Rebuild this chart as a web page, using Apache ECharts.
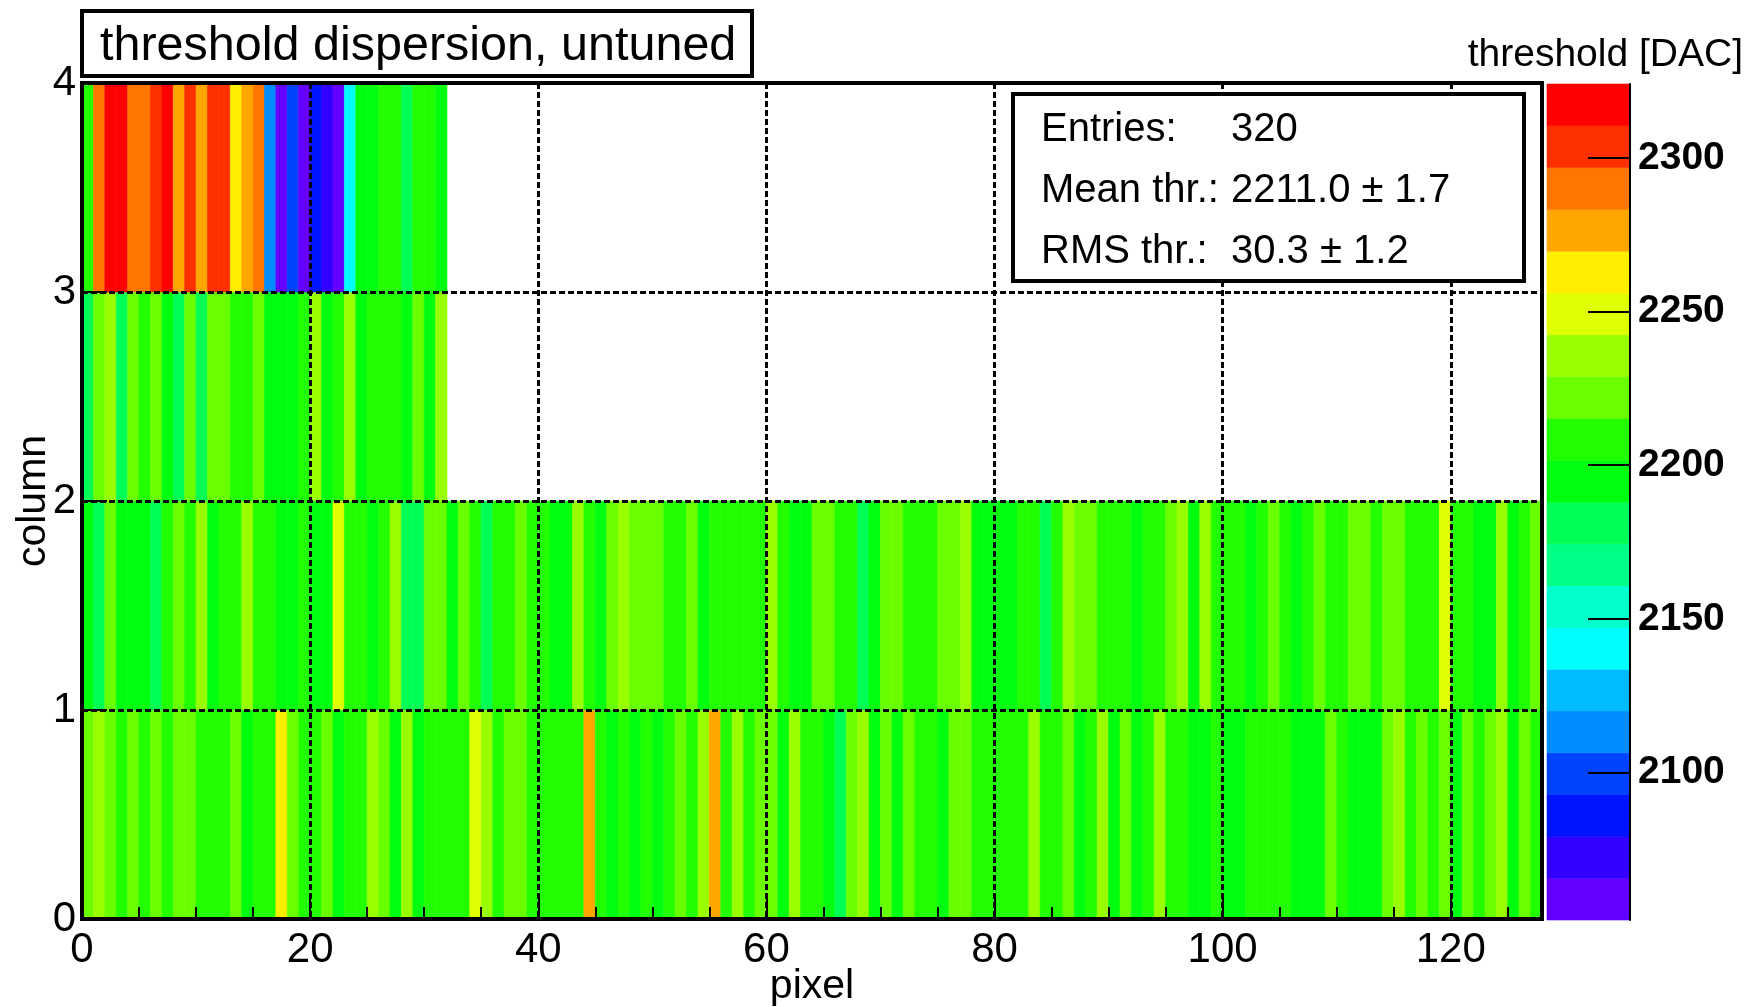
<!DOCTYPE html>
<html>
<head>
<meta charset="utf-8">
<script src="https://cdn.jsdelivr.net/npm/echarts@6/dist/echarts.min.js"></script>
<style>
  html, body { margin: 0; padding: 0; background: #fff; }
  #chart { width: 1755px; height: 1007px; }
</style>
</head>
<body>
<div id="chart"></div>
<script>
// Threshold map of a 4-column x 128-pixel readout, values in DAC units.
const titleText = 'threshold dispersion, untuned';
const zTitle = 'threshold [DAC]';
const xName = 'pixel';
const yName = 'column';

const pixelCount = 128;
const columnCount = 4;
const xTickStep = 20;
const zTicks = [2100, 2150, 2200, 2250, 2300];
const zMin = 2052;
const zMax = 2324;
const levelCount = 20;

const statLabels = ['Entries:', 'Mean thr.:', 'RMS thr.:'];
const statValues = ['320', '2211.0 \u00b1 1.7', '30.3 \u00b1 1.2'];

// column 0, pixels 0..127
const column0 = [
  2222, 2235, 2222, 2208, 2222, 2208, 2222, 2208, 2222, 2222,
  2208, 2208, 2208, 2222, 2195, 2208, 2208, 2263, 2222, 2208,
  2208, 2222, 2195, 2208, 2208, 2235, 2222, 2195, 2235, 2195,
  2208, 2208, 2208, 2208, 2249, 2235, 2208, 2222, 2222, 2208,
  2208, 2208, 2208, 2208, 2276, 2208, 2195, 2208, 2195, 2208,
  2195, 2208, 2222, 2208, 2235, 2276, 2208, 2235, 2208, 2222,
  2222, 2195, 2235, 2208, 2208, 2195, 2181, 2222, 2235, 2195,
  2222, 2195, 2222, 2208, 2208, 2195, 2222, 2222, 2208, 2208,
  2208, 2208, 2208, 2235, 2208, 2208, 2222, 2195, 2208, 2235,
  2195, 2222, 2195, 2208, 2235, 2208, 2208, 2195, 2195, 2208,
  2195, 2195, 2208, 2208, 2208, 2208, 2195, 2195, 2195, 2222,
  2208, 2195, 2195, 2195, 2222, 2235, 2208, 2222, 2208, 2222,
  2195, 2222, 2208, 2222, 2235, 2195, 2222, 2208
];

// column 1, pixels 0..127
const column1 = [
  2195, 2181, 2222, 2195, 2195, 2195, 2181, 2208, 2222, 2208,
  2235, 2195, 2208, 2208, 2235, 2208, 2208, 2195, 2195, 2208,
  2195, 2195, 2249, 2208, 2208, 2195, 2208, 2235, 2181, 2181,
  2222, 2222, 2195, 2222, 2208, 2181, 2208, 2208, 2222, 2208,
  2208, 2195, 2195, 2235, 2208, 2195, 2222, 2235, 2222, 2222,
  2222, 2208, 2208, 2222, 2195, 2208, 2208, 2208, 2208, 2208,
  2235, 2208, 2195, 2195, 2222, 2222, 2208, 2208, 2181, 2195,
  2222, 2222, 2208, 2208, 2208, 2222, 2222, 2235, 2195, 2195,
  2195, 2195, 2208, 2208, 2181, 2208, 2235, 2222, 2222, 2208,
  2208, 2208, 2195, 2208, 2208, 2222, 2235, 2195, 2235, 2208,
  2208, 2208, 2195, 2208, 2222, 2208, 2195, 2208, 2222, 2208,
  2208, 2222, 2222, 2208, 2222, 2222, 2208, 2208, 2208, 2249,
  2208, 2208, 2195, 2195, 2235, 2195, 2208, 2222
];

// column 2, pixels 0..31
const column2 = [
  2181, 2222, 2235, 2181, 2222, 2208, 2222, 2195, 2181, 2222,
  2181, 2222, 2222, 2208, 2208, 2222, 2195, 2195, 2195, 2208,
  2235, 2195, 2208, 2235, 2195, 2208, 2208, 2208, 2195, 2222,
  2195, 2235
];

// column 3, pixels 0..31
const column3 = [
  2208, 2290, 2317, 2323, 2290, 2290, 2303, 2317, 2276, 2303,
  2276, 2303, 2303, 2263, 2276, 2290, 2113, 2053, 2100, 2059,
  2086, 2072, 2059, 2140, 2195, 2195, 2208, 2208, 2181, 2208,
  2208, 2195
];

const columns = [column0, column1, column2, column3];

// ROOT-style rainbow palette, one colour per contour level (violet -> red)
const palette = [
  '#6300ff', '#3300ff', '#0014ff', '#0044ff', '#008bff',
  '#00bbff', '#00fffc', '#00ffcc', '#00ff85', '#00ff55',
  '#00ff0e', '#22ff00', '#69ff00', '#99ff00', '#e0ff00',
  '#ffee00', '#ffa700', '#ff7700', '#ff3000', '#ff0000'
];

const FONT = '"Liberation Sans", Arial, Helvetica, sans-serif';
const levelStep = (zMax - zMin) / levelCount;

const cells = [];
columns.forEach((vals, col) => {
  vals.forEach((v, px) => cells.push([px, col, v]));
});

const pieces = palette.map((color, k) => {
  const p = { gte: zMin + k * levelStep, color: color };
  if (k < levelCount - 1) p.lt = zMin + (k + 1) * levelStep;
  else p.lte = zMax;
  return p;
});

const levelBands = palette.map((color, k) => [zMin + k * levelStep, zMin + (k + 1) * levelStep, k]);

const chart = echarts.init(document.getElementById('chart'), null, { renderer: 'canvas' });

const dashed = { color: '#000', width: 3, type: [6, 3] };

chart.setOption({
  animation: false,
  backgroundColor: '#fff',
  textStyle: { fontFamily: FONT },
  grid: [
    { left: 82, top: 83, width: 1460, height: 836, show: true, borderColor: '#000', borderWidth: 4,
      backgroundColor: 'transparent', z: 6, containLabel: false, outerBoundsMode: 'none' },
    { left: 1547, top: 84, width: 83, height: 836, containLabel: false, outerBoundsMode: 'none' }
  ],
  xAxis: [
    {
      gridIndex: 0, type: 'value', min: 0, max: pixelCount, interval: xTickStep, z: 5,
      axisLine: { show: false },
      axisTick: { show: true, inside: true, length: 25, lineStyle: { color: '#000', width: 2 } },
      minorTick: { show: true, splitNumber: 4, length: 12, lineStyle: { color: '#000', width: 2 } },
      axisLabel: { color: '#000', fontSize: 42, fontFamily: FONT, margin: 10, showMaxLabel: false },
      splitLine: { show: true, lineStyle: dashed },
      name: xName, nameLocation: 'middle', nameGap: 47, nameMoveOverlap: false,
      nameTextStyle: { color: '#000', fontSize: 41, fontFamily: FONT }
    },
    { gridIndex: 1, type: 'value', min: 0, max: 1, show: false }
  ],
  yAxis: [
    {
      gridIndex: 0, type: 'value', min: 0, max: columnCount, interval: 1, z: 5,
      axisLine: { show: false },
      axisTick: { show: true, inside: true, length: 25, lineStyle: { color: '#000', width: 2 } },
      minorTick: { show: false },
      axisLabel: { color: '#000', fontSize: 42, fontFamily: FONT, margin: 6 },
      splitLine: { show: true, lineStyle: dashed },
      name: yName, nameLocation: 'middle', nameGap: 28, nameMoveOverlap: false,
      nameTextStyle: { color: '#000', fontSize: 41, fontFamily: FONT }
    },
    {
      gridIndex: 1, type: 'value', position: 'right', min: zMin, max: zMax, z: 5,
      axisLine: { show: true, onZero: false, lineStyle: { color: '#000', width: 2 } },
      axisTick: { show: true, inside: true, length: 42, customValues: zTicks,
        lineStyle: { color: '#000', width: 2 } },
      axisLabel: { show: true, customValues: zTicks, color: '#000', fontSize: 39,
        fontWeight: 'bold', fontFamily: FONT, margin: 8, formatter: (v) => String(v) },
      splitLine: { show: false }
    }
  ],
  visualMap: {
    type: 'piecewise', show: false, dimension: 2, seriesIndex: 0, pieces: pieces
  },
  series: [
    {
      type: 'custom', xAxisIndex: 0, yAxisIndex: 0, data: cells,
      encode: { x: 0, y: 1 },
      renderItem: function (params, api) {
        const a = api.coord([api.value(0), api.value(1)]);
        const b = api.coord([api.value(0) + 1, api.value(1) + 1]);
        const c = api.visual('color');
        return {
          type: 'rect',
          shape: { x: a[0], y: b[1], width: b[0] - a[0], height: a[1] - b[1] },
          style: { fill: c, stroke: c, lineWidth: 0.6 }
        };
      }
    },
    {
      type: 'custom', xAxisIndex: 1, yAxisIndex: 1, data: levelBands,
      encode: { y: [0, 1] },
      renderItem: function (params, api) {
        const lo = api.coord([0, api.value(0)]);
        const hi = api.coord([1, api.value(1)]);
        const c = palette[api.value(2)];
        return {
          type: 'rect',
          shape: { x: lo[0], y: hi[1], width: hi[0] - lo[0], height: lo[1] - hi[1] },
          style: { fill: c, stroke: c, lineWidth: 0.6 }
        };
      }
    }
  ],
  graphic: [
    { type: 'rect', z: 100, shape: { x: 82, y: 11, width: 670, height: 65 },
      style: { fill: '#fff', stroke: '#000', lineWidth: 4 } },
    { type: 'text', z: 101, x: 100, y: 47,
      style: { text: titleText, font: '48.5px ' + FONT, fill: '#000', align: 'left', verticalAlign: 'middle' } },
    { type: 'text', z: 101, x: 1743, y: 55,
      style: { text: zTitle, font: '39px ' + FONT, fill: '#000', align: 'right', verticalAlign: 'middle' } },
    { type: 'rect', z: 100, shape: { x: 1013, y: 94, width: 511, height: 187 },
      style: { fill: '#fff', stroke: '#000', lineWidth: 4 } }
  ].concat(statLabels.map((t, i) => ({
    type: 'text', z: 101, x: 1041, y: 130 + i * 61,
    style: { text: t, font: '40px ' + FONT, fill: '#000', align: 'left', verticalAlign: 'middle' }
  }))).concat(statValues.map((t, i) => ({
    type: 'text', z: 101, x: 1231, y: 130 + i * 61,
    style: { text: t, font: '40px ' + FONT, fill: '#000', align: 'left', verticalAlign: 'middle' }
  })))
});
</script>
</body>
</html>
